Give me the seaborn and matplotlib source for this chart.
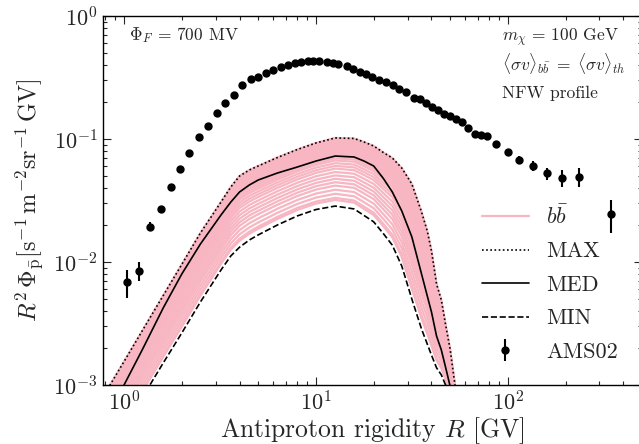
import numpy as np
import pandas as pd
import matplotlib
matplotlib.use('Agg')
import matplotlib.pyplot as plt
import seaborn as sns
from matplotlib.lines import Line2D

# AMS-02 antiproton points (rigidity in GV, R^2 flux)
ams_R = [1.04, 1.20, 1.37, 1.56, 1.75, 1.96, 2.19, 2.46, 2.74, 3.04,
         3.37, 3.73, 4.12, 4.57, 5.01, 5.49, 5.99, 6.57, 7.12, 7.75,
         8.35, 9.05, 9.71, 10.4, 11.4, 12.2, 13.1, 14.5, 15.6, 17.0,
         18.2, 19.7, 21.3, 23.2, 25.1, 27.2, 29.3, 32.4, 34.8, 37.4,
         40.3, 43.4, 46.6, 49.9, 53.4, 57.4, 62.1, 67.3, 72.3, 77.5,
         86.3, 99.6, 114, 136, 160, 192, 235, 344]
ams_flux = [0.00684, 0.0085, 0.0194, 0.0270, 0.0405, 0.0570, 0.0765, 0.104, 0.128, 0.164,
            0.197, 0.229, 0.275, 0.306, 0.317, 0.346, 0.364, 0.383, 0.400, 0.412,
            0.420, 0.428, 0.432, 0.431, 0.420, 0.412, 0.405, 0.392, 0.373, 0.353,
            0.336, 0.319, 0.302, 0.289, 0.273, 0.254, 0.242, 0.215, 0.210, 0.197,
            0.181, 0.172, 0.159, 0.154, 0.145, 0.137, 0.122, 0.109, 0.108, 0.106,
            0.0905, 0.0777, 0.0679, 0.0607, 0.0526, 0.0485, 0.0494, 0.0246]
ams_rel_err = [0.25, 0.17, 0.08, 0.06, 0.05, 0.04, 0.04, 0.04, 0.04, 0.04,
               0.04, 0.04, 0.04, 0.04, 0.04, 0.04, 0.04, 0.04, 0.04, 0.04,
               0.04, 0.04, 0.04, 0.04, 0.04, 0.04, 0.04, 0.04, 0.04, 0.04,
               0.04, 0.04, 0.04, 0.04, 0.04, 0.04, 0.04, 0.04, 0.04, 0.04,
               0.04, 0.04, 0.04, 0.04, 0.04, 0.04, 0.04, 0.04, 0.04, 0.04,
               0.06, 0.07, 0.08, 0.09, 0.11, 0.16, 0.17, 0.30]

# propagation models, b-bbar channel
curve_R = [0.8, 1.0, 1.25, 1.6, 2.0, 2.5, 3.2, 3.6, 4.0, 4.5,
           5.0, 6.3, 8.0, 10, 12.6, 15.8, 17.8, 20, 22.4, 25,
           28, 31.6, 35.5, 38, 40, 42.5, 45, 47.5, 50, 53,
           56, 63]
max_flux = [8.66e-4, 1.55e-3, 2.79e-3, 5.33e-3, 9.56e-3, 1.72e-2, 3.07e-2, 4.07e-2, 5.00e-2, 5.60e-2,
            6.03e-2, 7.07e-2, 8.21e-2, 9.28e-2, 0.102, 0.101, 0.0945, 0.0877, 0.0778, 0.0701,
            0.0581, 0.0431, 0.0255, 0.0179, 0.0123, 6.62e-3, 4.91e-3, 3.02e-3, 1.96e-3, 1.0e-3,
            5.7e-4, 1.5e-4]
med_flux = [5.39e-4, 1.0e-3, 1.96e-3, 4.23e-3, 7.99e-3, 1.40e-2, 2.41e-2, 3.07e-2, 3.71e-2, 4.23e-2,
            4.64e-2, 5.29e-2, 5.92e-2, 6.62e-2, 7.27e-2, 7.14e-2, 6.62e-2, 6.03e-2, 4.8e-2, 3.71e-2,
            2.60e-2, 1.60e-2, 7.99e-3, 5.32e-3, 3.92e-3, 2.50e-3, 1.93e-3, 1.37e-3, 9.8e-4, 6.15e-4,
            3.9e-4, 1.4e-4]
min_flux = [2.55e-4, 4.47e-4, 7.99e-4, 1.51e-3, 2.65e-3, 4.73e-3, 8.61e-3, 1.12e-2, 1.32e-2, 1.51e-2,
            1.66e-2, 2.00e-2, 2.37e-2, 2.67e-2, 2.85e-2, 2.70e-2, 2.39e-2, 2.12e-2, 1.71e-2, 1.37e-2,
            9.28e-3, 5.00e-3, 2.85e-3, 2.16e-3, 1.75e-3, 1.38e-3, 1.21e-3, 9.9e-4, 8.3e-4, 6.2e-4,
            4.7e-4, 2.5e-4]

# where each pink model line sits between MIN (0) and MAX (1), log scale
band_weights = [0.09, 0.12, 0.18, 0.24, 0.30, 0.35, 0.40, 0.45, 0.50, 0.55,
                0.59, 0.63, 0.67, 0.70, 0.73, 0.76, 0.78, 0.80, 0.82, 0.84,
                0.86, 0.88, 0.90, 0.92, 0.94, 0.96, 0.98, 1.0]

pink = '#f7b6c2'
dotted = (0, (1, 1.5))

sns.set_theme(style='ticks')
plt.rcParams.update({
    'font.family': ['cmr10', 'DejaVu Serif'],
    'mathtext.fontset': 'cm',
    'axes.formatter.use_mathtext': True,
    'axes.linewidth': 1.0,
    'axes.edgecolor': 'black',
})

fig = plt.figure(figsize=(6.39, 4.44), dpi=100)
ax = fig.add_axes([103 / 639, 1 - 385 / 444, (642 - 103) / 639, (385 - 16) / 444])
ax.set(xscale='log', yscale='log')

lo = np.log10(min_flux)
hi = np.log10(max_flux)
rows = []
for i, w in enumerate(band_weights):
    for r, v in zip(curve_R, 10 ** (lo + w * (hi - lo))):
        rows.append({'R': r, 'flux': v, 'line': i})
band = pd.DataFrame(rows)
sns.lineplot(data=band, x='R', y='flux', units='line', estimator=None, sort=False,
             color=pink, lw=1.6, ax=ax, legend=False)

models = pd.DataFrame({'R': curve_R, 'MAX': max_flux, 'MED': med_flux, 'MIN': min_flux})
styles = {'MAX': dotted, 'MED': '-', 'MIN': '--'}
for name, ls in styles.items():
    sns.lineplot(data=models, x='R', y=name, color='black', lw=1.2, ls=ls, ax=ax, sort=False)

yerr = np.array(ams_flux) * np.array(ams_rel_err)
ams = ax.errorbar(ams_R, ams_flux, yerr=yerr, fmt='o', color='black', ms=5,
                  elinewidth=1.5, capsize=0, zorder=5)

ax.set_xlim(0.777, 500)
ax.set_ylim(1e-3, 1)
ax.tick_params(which='both', direction='in', top=True, right=True, labelsize=16, width=0.8)
ax.tick_params(which='major', length=6, pad=4)
ax.tick_params(which='minor', length=3)

ax.set_xlabel(r'Antiproton rigidity $R$ [GV]', fontsize=18.5, labelpad=0)
ax.set_ylabel(r'$R^2\,\mathbf{\Phi}_{\bar{\rm p}}[{\rm s}^{-1}\,{\rm m}^{-2}{\rm sr}^{-1}\,{\rm GV}]$',
              fontsize=17.5, labelpad=5)

ax.text(0.048, 0.935, r'$\Phi_F$ = 700 MV', transform=ax.transAxes, fontsize=12.5)
ax.text(0.740, 0.932, r'$m_\chi$ = 100 GeV', transform=ax.transAxes, fontsize=12.5)
ax.text(0.740, 0.854, r'$\langle\sigma v\rangle_{b\bar{b}}\;=\;\langle\sigma v\rangle_{th}$',
        transform=ax.transAxes, fontsize=12.5)
ax.text(0.740, 0.778, 'NFW profile', transform=ax.transAxes, fontsize=12.5)

handles = [Line2D([], [], color=pink, lw=1.6),
           Line2D([], [], color='black', lw=1.2, ls=dotted),
           Line2D([], [], color='black', lw=1.2, ls='-'),
           Line2D([], [], color='black', lw=1.2, ls='--'),
           ams]
labels = [r'$b\bar{b}$', 'MAX', 'MED', 'MIN', 'AMS02']
ax.legend(handles, labels, loc='upper left', bbox_to_anchor=(0.703, 0.49),
          frameon=False, fontsize=16, borderpad=0, borderaxespad=0,
          handlelength=2.1, handletextpad=0.8, labelspacing=0.63)

fig.savefig('out.png', dpi=100)
